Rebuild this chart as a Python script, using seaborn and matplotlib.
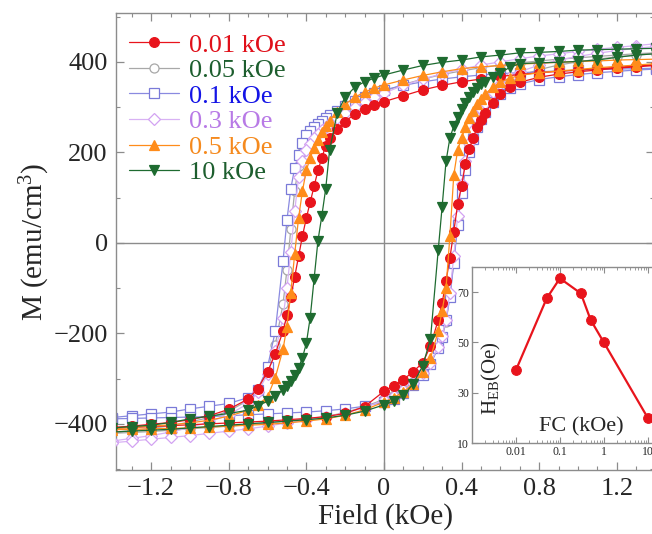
import matplotlib
matplotlib.use("Agg")
import matplotlib.pyplot as plt
import seaborn as sns
from matplotlib.ticker import MultipleLocator, FixedLocator, NullFormatter

# ---------------- data ----------------
H_DESC = [1.4, 1.3, 1.2, 1.1, 1.0, 0.9, 0.8, 0.7, 0.6, 0.5, 0.4, 0.3, 0.2, 0.1, 0.0,
          -0.05, -0.1, -0.15, -0.2, -0.24, -0.28, -0.3, -0.32, -0.34, -0.36, -0.38,
          -0.4, -0.42, -0.44, -0.46, -0.48, -0.5, -0.52, -0.56, -0.6, -0.65,
          -0.7, -0.8, -0.9, -1.0, -1.1, -1.2, -1.3, -1.4]
H_ASC = [-h for h in H_DESC]

labels = ["0.01 kOe", "0.05 kOe", "0.1 kOe", "0.3 kOe", "0.5 kOe", "10 kOe"]

M_001_desc = [394, 391, 388, 385, 382, 379, 376, 372, 368, 362, 356, 348, 338, 325, 312,
              305, 296, 285, 268, 252, 232, 215, 188, 160, 125, 90, 55, 15, -30, -75,
              -120, -160, -195, -245, -285, -322, -345, -368, -382, -391, -397, -401, -405, -408]
M_001_asc = [-410, -408, -406, -404, -402, -400, -398, -396, -394, -391, -388, -384, -377, -362, -328,
             -316, -302, -285, -265, -228, -170, -133, -85, -33, 25, 85, 125, 175, 208, 232,
             255, 272, 287, 310, 328, 345, 355, 366, 373, 378, 382, 386, 389, 392]

M_005_desc = [420, 418, 415, 412, 409, 406, 402, 398, 393, 387, 380, 372, 362, 350, 335,
              327, 318, 307, 295, 284, 273, 267, 260, 252, 243, 233, 220, 200, 170, 115,
              30, -60, -135, -225, -280, -322, -348, -372, -386, -396, -404, -410, -415, -419]
M_005_asc = [-421, -419, -417, -414, -411, -408, -405, -402, -398, -394, -389, -384, -375, -362, -346,
             -336, -324, -308, -287, -265, -232, -208, -175, -118, -40, 50, 125, 175, 215, 245,
             270, 290, 305, 327, 343, 358, 369, 383, 393, 400, 406, 411, 415, 418]

M_01_desc = [386, 385, 384, 383, 381, 380, 378, 376, 374, 371, 367, 362, 356, 348, 338,
             331, 323, 313, 302, 292, 282, 276, 270, 263, 256, 248, 238, 220, 195, 165,
             120, 50, -40, -195, -275, -325, -342, -355, -361, -367, -374, -378, -382, -386]
M_01_asc = [-389, -388, -387, -386, -385, -384, -382, -380, -378, -376, -374, -371, -367, -361, -352,
            -344, -332, -315, -292, -268, -232, -208, -170, -120, -45, 40, 110, 160, 200, 230,
            255, 274, 290, 312, 328, 342, 351, 361, 367, 372, 376, 379, 382, 384]

M_03_desc = [440, 436, 432, 428, 423, 418, 413, 407, 400, 393, 384, 374, 362, 348, 331,
             322, 312, 300, 287, 276, 264, 257, 250, 241, 231, 219, 205, 182, 145, 70,
             -20, -100, -165, -240, -290, -330, -355, -380, -396, -408, -418, -426, -432, -438]
M_03_asc = [-442, -438, -434, -430, -426, -421, -416, -411, -405, -398, -392, -385, -376, -364, -348,
            -338, -326, -310, -288, -265, -230, -205, -170, -110, -30, 60, 130, 180, 220, 250,
            275, 295, 310, 333, 350, 366, 378, 393, 404, 412, 419, 425, 430, 434]

M_05_desc = [406, 405, 404, 402, 401, 399, 397, 395, 392, 389, 385, 378, 370, 360, 349,
             342, 333, 322, 306, 290, 270, 258, 244, 228, 210, 188, 160, 115, 55, -25,
             -110, -185, -235, -298, -340, -358, -370, -383, -392, -398, -402, -405, -408, -410]
M_05_asc = [-413, -412, -411, -410, -409, -407, -405, -403, -401, -398, -394, -389, -381, -369, -352,
            -342, -329, -312, -285, -255, -195, -150, -100, 15, 150, 205, 232, 255, 275, 292,
            306, 318, 328, 344, 355, 364, 370, 376, 380, 383, 387, 390, 393, 396]

M_10_desc = [430, 429, 428, 427, 426, 423, 421, 420, 415, 411, 404, 399, 392, 382, 371,
             364, 356, 344, 322, 288, 205, 120, 60, 5, -80, -165, -222, -254, -276, -292,
             -305, -316, -325, -338, -350, -360, -370, -377, -383, -389, -397, -403, -406, -409]
M_10_asc = [-418, -416, -414, -412, -409, -406, -403, -400, -397, -394, -391, -387, -381, -372, -358,
            -350, -337, -312, -272, -212, -15, 80, 180, 232, 258, 278, 295, 310, 322, 333,
            342, 350, 356, 366, 376, 388, 396, 398, 399, 401, 404, 410, 415, 418]

FC_kOe = [0.01, 0.05, 0.1, 0.3, 0.5, 1, 10]
H_EB_Oe = [39, 67.5, 75.5, 69.5, 59, 50, 20]

# ---------------- style ----------------
sns.set_style("ticks")
plt.rcParams["font.family"] = ["Liberation Serif", "DejaVu Serif"]
plt.rcParams["mathtext.fontset"] = "custom"
plt.rcParams["mathtext.rm"] = "Liberation Serif"
plt.rcParams["mathtext.it"] = "Liberation Serif:italic"
plt.rcParams["axes.unicode_minus"] = True

series = {
    "0.01 kOe": dict(desc=M_001_desc, asc=M_001_asc, marker="o", mfc="#e8141c", mec="#e8141c",
                     lc="#e8141c", ms=7, text="#e0101a", z=4),
    "0.05 kOe": dict(desc=M_005_desc, asc=M_005_asc, marker="o", mfc="white", mec="#a8a8a8",
                     lc="#a8a8a8", ms=6.5, text="#1d5e2e", z=2),
    "0.1 kOe": dict(desc=M_01_desc, asc=M_01_asc, marker="s", mfc="white", mec="#7a7ad8",
                    lc="#8a8ae0", ms=6.5, text="#1414e6", z=2),
    "0.3 kOe": dict(desc=M_03_desc, asc=M_03_asc, marker="D", mfc="white", mec="#d2a2f2",
                    lc="#d8b2f4", ms=6, text="#b87ae6", z=3),
    "0.5 kOe": dict(desc=M_05_desc, asc=M_05_asc, marker="^", mfc="#ff8c1a", mec="#ff8c1a",
                    lc="#ff8c1a", ms=7.5, text="#f58a1e", z=5),
    "10 kOe": dict(desc=M_10_desc, asc=M_10_asc, marker="v", mfc="#1e6b30", mec="#1e6b30",
                   lc="#1e6b30", ms=7.5, text="#1d5e2e", z=6),
}

fig = plt.figure(figsize=(6.52, 5.34), dpi=100)
ax = fig.add_axes([116 / 652, 64 / 534, 538 / 652, 457 / 534])

ax.axhline(0, color="#8c8c8c", lw=1.0, zorder=1)
ax.axvline(0, color="#8c8c8c", lw=1.0, zorder=1)

for lab in labels:
    s = series[lab]
    hh = H_DESC + H_ASC
    mm = s["desc"] + s["asc"]
    sns.lineplot(x=hh, y=mm, sort=False, estimator=None, ax=ax, color=s["lc"], lw=0.9,
                 marker=s["marker"], markersize=s["ms"], markerfacecolor=s["mfc"],
                 markeredgecolor=s["mec"], markeredgewidth=0.9, label=lab, zorder=s["z"])

ax.set_xlim(-1.381, 1.392)
ax.set_ylim(-502, 508)
ax.xaxis.set_major_locator(FixedLocator([-1.2, -0.8, -0.4, 0, 0.4, 0.8, 1.2]))
ax.xaxis.set_minor_locator(MultipleLocator(0.1))
ax.yaxis.set_major_locator(MultipleLocator(200))
ax.yaxis.set_minor_locator(MultipleLocator(100))
ax.set_xticklabels(["\u22121.2", "\u22120.8", "\u22120.4", "0", "0.4", "0.8", "1.2"])
ax.set_yticks([-400, -200, 0, 200, 400])
ax.set_yticklabels(["\u2212400", "\u2212200", "0", "200", "400"])
ax.tick_params(which="both", direction="in", top=True, right=True, color="#8c8c8c",
               labelsize=19, pad=6)
ax.tick_params(which="major", length=6, width=0.9)
ax.tick_params(which="minor", length=3, width=0.8)
for sp in ax.spines.values():
    sp.set_color("#8c8c8c")
    sp.set_linewidth(1.0)
ax.set_xlabel("Field (kOe)", fontsize=21, labelpad=2)
ax.set_ylabel("M (emu/cm$^3$)", fontsize=21, labelpad=1)

handles, labs = ax.get_legend_handles_labels()
leg = ax.legend(handles, labs, loc="upper left", bbox_to_anchor=(0.0, 0.985), frameon=False,
                fontsize=19, labelspacing=0.08, handlelength=1.9, handletextpad=0.35,
                borderaxespad=0.3, borderpad=0.2)
for t, lab in zip(leg.get_texts(), labs):
    t.set_color(series[lab]["text"])

# ---------------- inset ----------------
ins = fig.add_axes([472 / 652, 91 / 534, 189 / 652, 176 / 534])
ins.set_facecolor("white")
sns.lineplot(x=FC_kOe, y=H_EB_Oe, ax=ins, color="#e8141c", lw=1.6, marker="o", markersize=7,
             markerfacecolor="#e8141c", markeredgecolor="#e8141c", estimator=None)
ins.set_xscale("log")
ins.set_xlim(1e-3, 20)
ins.set_ylim(10, 80)
ins.set_xticks([0.01, 0.1, 1, 10])
ins.set_xticklabels(["0.01", "0.1", "1", "10"])
ins.set_yticks([10, 30, 50, 70])
ins.tick_params(which="both", direction="in", top=True, right=True, color="#8c8c8c",
                labelsize=8.5, pad=2)
ins.tick_params(which="major", length=4)
ins.tick_params(which="minor", length=2)
ins.xaxis.set_minor_formatter(NullFormatter())
for sp in ins.spines.values():
    sp.set_color("#8c8c8c")
    sp.set_linewidth(1.0)
ins.text(0.58, 0.09, "FC (kOe)", transform=ins.transAxes, fontsize=16, ha="center", va="center")
ins.text(0.105, 0.37, "H$_{\\mathrm{EB}}$(Oe)", transform=ins.transAxes, fontsize=15,
         ha="center", va="center", rotation=90)

fig.savefig("out.png", dpi=100)
